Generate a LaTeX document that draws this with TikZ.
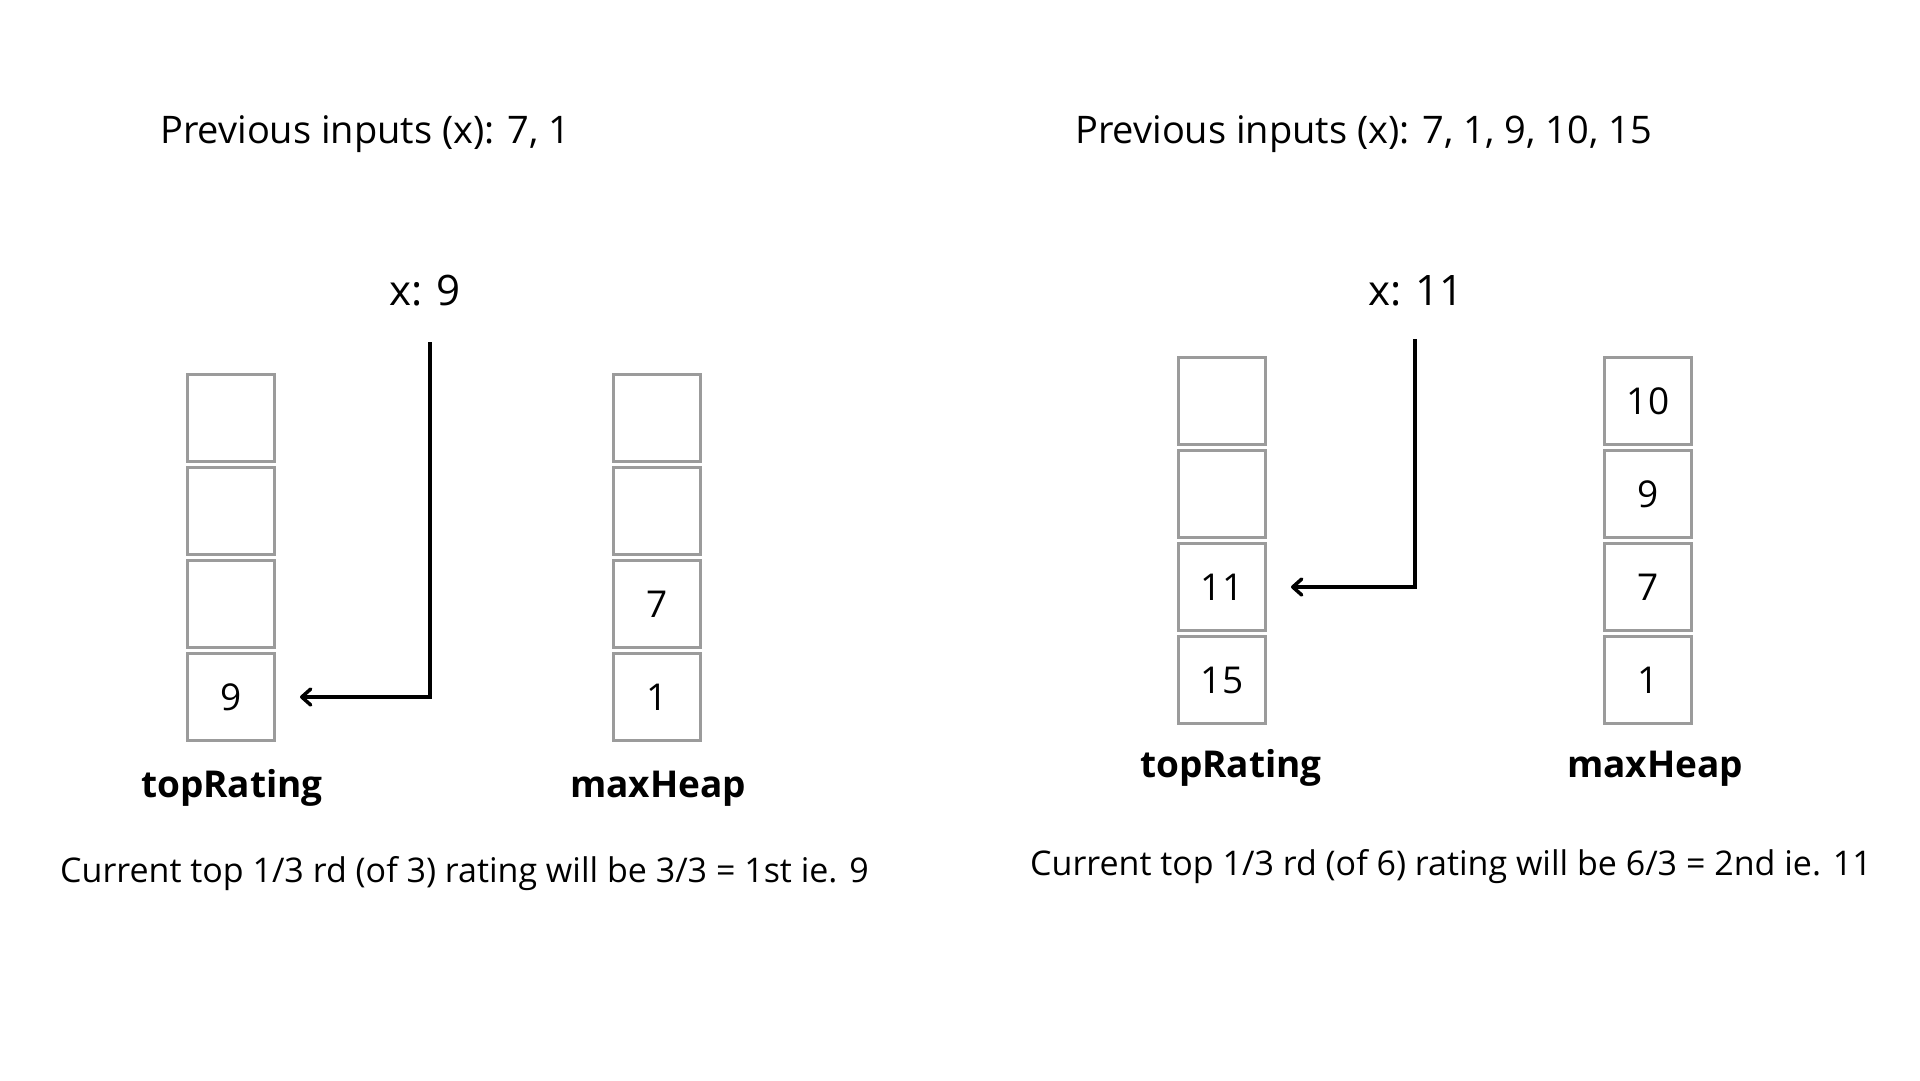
\documentclass[tikz,border=0pt]{standalone}
\usepackage{fontspec}
\setmainfont{Open Sans}
\usetikzlibrary{arrows.meta,positioning}
\definecolor{cellgray}{RGB}{155,155,155}

\begin{document}
\begin{tikzpicture}[x=1pt,y=-1pt,
		cell/.style={draw=cellgray, line width=3pt, minimum size=87pt, inner sep=0pt, font=\fontsize{37}{40}\selectfont},
		prevtext/.style={anchor=base west, inner sep=0pt, font=\fontsize{38}{42}\selectfont},
		xtext/.style={anchor=base, inner sep=0pt, font=\fontsize{42}{46}\selectfont},
		colname/.style={anchor=base, inner sep=0pt, font=\bfseries\fontsize{37}{40}\selectfont},
		resulttext/.style={anchor=base west, inner sep=0pt, font=\fontsize{34}{38}\selectfont},
		feed/.style={line width=4pt, -{Straight Barb[length=9pt,width=16pt,line width=3.5pt,round]}, shorten >=24pt}]
		\fill[white] (0,0) rectangle (1920,1080);
		\useasboundingbox (0,0) rectangle (1920,1080);

		% left: three inputs so far
		\node [prevtext] (prevA) at (160,143) {Previous inputs (x): 7, 1};
		\node [xtext] (xA) at (425,305) {x: 9};
		\coordinate (inA) at (430,342);

		\node [cell] (tA1) at (231,418) {};
		\node [cell, below=3pt of tA1] (tA2) {};
		\node [cell, below=3pt of tA2] (tA3) {};
		\node [cell, below=3pt of tA3] (tA4) {9};

		\node [cell] (hA1) at (657,418) {};
		\node [cell, below=3pt of hA1] (hA2) {};
		\node [cell, below=3pt of hA2] (hA3) {7};
		\node [cell, below=3pt of hA3] (hA4) {1};

		\node [colname] (topA) at (232,797) {topRating};
		\node [colname] (heapA) at (658,797) {maxHeap};
		\node [resulttext] (noteA) at (60,882) {Current top 1/3 rd (of 3) rating will be 3/3 = 1st ie. 9};

		\draw [feed] (inA) |- (tA4.east);

		% right: six inputs so far
		\node [prevtext] (prevB) at (1075,143) {Previous inputs (x): 7, 1, 9, 10, 15};
		\node [xtext] (xB) at (1416,305) {x: 11};
		\coordinate (inB) at (1415,339);

		\node [cell] (tB1) at (1222,401) {};
		\node [cell, below=3pt of tB1] (tB2) {};
		\node [cell, below=3pt of tB2] (tB3) {11};
		\node [cell, below=3pt of tB3] (tB4) {15};

		\node [cell] (hB1) at (1648,401) {10};
		\node [cell, below=3pt of hB1] (hB2) {9};
		\node [cell, below=3pt of hB2] (hB3) {7};
		\node [cell, below=3pt of hB3] (hB4) {1};

		\node [colname] (topB) at (1231,777) {topRating};
		\node [colname] (heapB) at (1655,777) {maxHeap};
		\node [resulttext] (noteB) at (1030,875) {Current top 1/3 rd (of 6) rating will be 6/3 = 2nd ie. 11};

		\draw [feed] (inB) |- (tB3.east);
\end{tikzpicture}
\end{document}
